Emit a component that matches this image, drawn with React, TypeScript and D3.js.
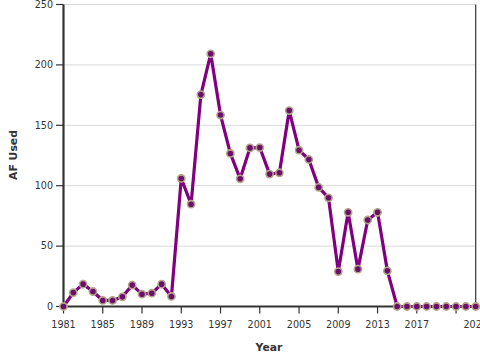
import React from "react";
import * as d3 from "d3";

const years: number[] = d3.range(1981, 2024);
const afUsed: number[] = [
  0, 11.5, 18.5, 12.4, 5, 5, 8, 17.7, 10.2, 11, 18.5, 8.3,
  106, 84.7, 175.4, 209.2, 158.5, 126.7, 105.7, 131.3, 131.6, 109.6, 110.7,
  162.2, 129.4, 121.7, 98.6, 90, 28.9, 78, 30.9, 71.6, 78, 29.5,
  0, 0, 0, 0, 0, 0, 0, 0, 0,
];
const xTicks: number[] = [1981, 1985, 1989, 1993, 1997, 2001, 2005, 2009, 2013, 2017, 2021];
const xLabelYears: number[] = [1981, 1985, 1989, 1993, 1997, 2001, 2005, 2009, 2013, 2017, 2023];
const yTicks: number[] = [0, 50, 100, 150, 200, 250];

export default function App() {
  const W = 480, H = 360;
  const x = d3.scaleLinear().domain([1981, 2023]).range([63.5, 475.7]);
  const y = d3.scaleLinear().domain([0, 250]).range([306.5, 4.5]);
  const data = years.map((yr, i) => ({ yr, v: afUsed[i] }));
  const line = d3.line<{ yr: number; v: number }>().x(d => x(d.yr)).y(d => y(d.v));
  const font = "DejaVu Sans, sans-serif";
  return (
    <svg width={W} height={H} style={{ position: "absolute", left: 0, top: 0 }} fontFamily={font}>
      <rect width={W} height={H} fill="#fff" />
      {yTicks.map(t => (
        <line key={"g" + t} x1={63.5} x2={475.7} y1={y(t)} y2={y(t)} stroke="#d9d9d9" strokeWidth={1} />
      ))}
      <line x1={475.7} x2={475.7} y1={y(250)} y2={y(0)} stroke="#333" strokeWidth={1.2} />
      {yTicks.map(t => (
        <g key={"yt" + t}>
          <line x1={56} x2={63.5} y1={y(t)} y2={y(t)} stroke="#333" strokeWidth={1.2} />
          <text x={53} y={y(t)} dy="0.35em" textAnchor="end" fontSize={9.6} fill="#333">{t}</text>
        </g>
      ))}
      {xTicks.map(t => (
        <line key={"xt" + t} x1={x(t)} x2={x(t)} y1={306.5} y2={313.5} stroke="#333" strokeWidth={1.2} />
      ))}
      {xLabelYears.map(t => (
        <text key={"xl" + t} x={x(t)} y={328} textAnchor="middle" fontSize={9.6} fill="#333">{t}</text>
      ))}
      <line x1={63.5} x2={63.5} y1={y(250)} y2={307.5} stroke="#333" strokeWidth={2.2} />
      <line x1={62.5} x2={480} y1={306.5} y2={306.5} stroke="#333" strokeWidth={2.2} />
      <path d={line(data) || ""} fill="none" stroke="#800080" strokeWidth={3.2} strokeLinejoin="round" />
      {data.map(d => (
        <circle key={d.yr} cx={x(d.yr)} cy={y(d.v)} r={3.6} fill="#6b0f6b" stroke="#b3a58a" strokeWidth={1.6} />
      ))}
      <text x={269} y={351} textAnchor="middle" fontSize={10.8} fontWeight="bold" fill="#333">Year</text>
      <text transform={`translate(17,155) rotate(-90)`} textAnchor="middle" fontSize={10.8} fontWeight="bold" fill="#333">AF Used</text>
    </svg>
  );
}
